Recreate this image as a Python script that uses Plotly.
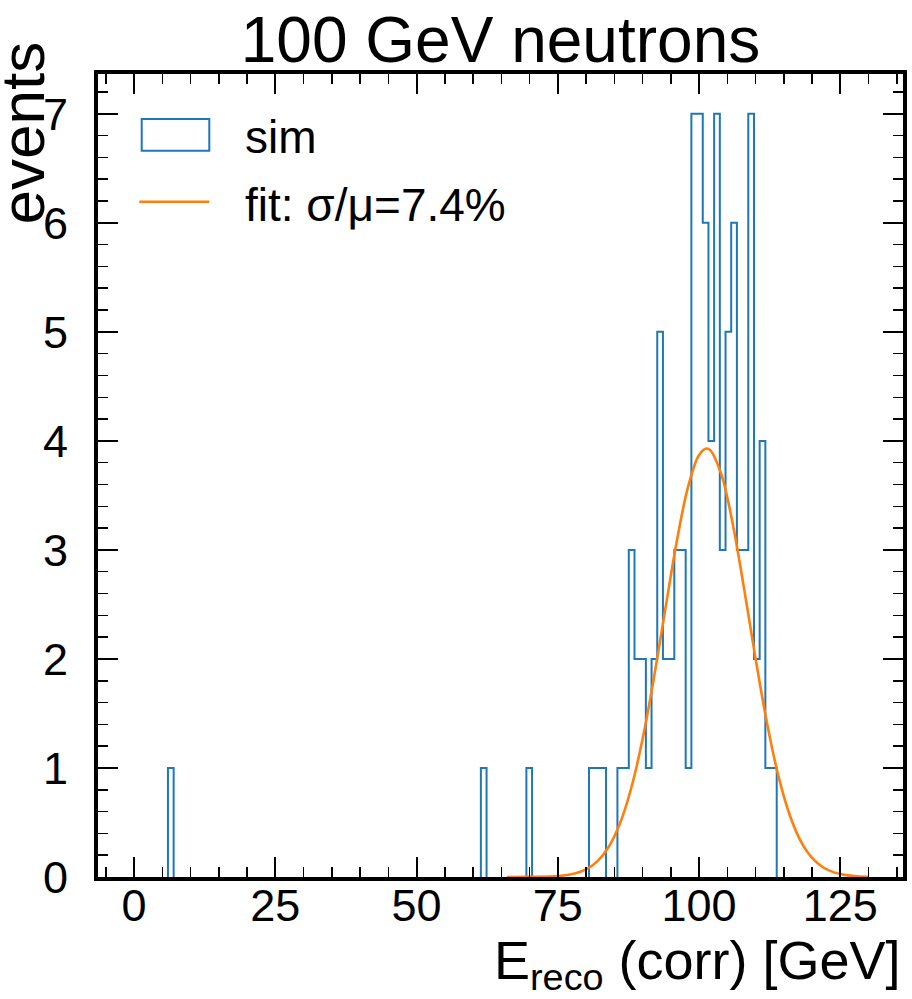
import numpy as np
import plotly.graph_objects as go

# ---- data ----
bin_lo = 6.0          # lower edge of first histogram bin [GeV]
bin_hi = 113.75       # upper edge of last histogram bin [GeV]
n_bins = 107

# non-empty bins (index -> events)
bin_index = [0, 55, 63,
             74, 75, 76, 79, 80, 81, 82, 83, 84, 85, 86, 87, 88, 89, 90,
             91, 92, 93, 94, 95, 96, 97, 98, 99, 100, 101, 102, 103, 104,
             105, 106]
bin_count = [1, 1, 1,
             1, 1, 1, 1, 1, 3, 2, 2, 1, 2, 5, 2, 2, 3, 3,
             1, 7, 7, 6, 4, 7, 3, 5, 6, 3, 3, 7, 2, 4,
             1, 1]

# Gaussian fit curve
fit_x = [66, 70, 75, 78, 80, 82, 84, 86, 88, 90, 92, 94, 96, 98, 100,
         101.3, 102, 104, 106, 108, 110, 112, 114, 116, 118, 120, 122,
         124, 126, 128, 130]
fit_y = [0.0, 0.001, 0.008, 0.032, 0.070, 0.143, 0.275, 0.490, 0.816,
         1.263, 1.822, 2.447, 3.061, 3.567, 3.871, 3.93, 3.913, 3.684,
         3.229, 2.637, 2.005, 1.420, 0.937, 0.576, 0.329, 0.176, 0.087,
         0.040, 0.017, 0.007, 0.0025]

title_text = "100 GeV neutrons"
xlabel = "E<sub>reco</sub> (corr) [GeV]"
ylabel = "events"
leg_sim = "sim"
leg_fit = "fit: σ/μ=7.4%"

x_ticks = [0, 25, 50, 75, 100, 125]
y_ticks = [0, 1, 2, 3, 4, 5, 6, 7]

# ---- build histogram outline (step), one piece per run of filled bins ----
edges = np.linspace(bin_lo, bin_hi, n_bins + 1)
counts = np.zeros(n_bins)
for i, c in zip(bin_index, bin_count):
    counts[i] = c

step_x, step_y = [], []
k = 0
while k < n_bins:
    if counts[k] > 0:
        a = k
        while k < n_bins and counts[k] > 0:
            k += 1
        b = k  # run covers bins a..b-1
        step_x += [edges[a]] + list(edges[a:b]) + [edges[b], None]
        step_y += [0] + list(counts[a:b]) + [0, None]
    else:
        k += 1

FONT = "Liberation Sans, Arial, Helvetica, sans-serif"
C0 = "#1f77b4"
C1 = "#ff7f0e"

fig = go.Figure()
fig.add_trace(go.Scatter(x=step_x, y=step_y, mode="lines",
                         line=dict(color=C0, width=2, shape="hv"),
                         connectgaps=False,
                         showlegend=False, hoverinfo="skip"))
fig.add_trace(go.Scatter(x=fit_x, y=fit_y, mode="lines",
                         line=dict(color=C1, width=2.6, shape="spline"),
                         showlegend=False, hoverinfo="skip"))

W, H = 912, 999
L, R, T, B = 98, 903, 74, 877


def px2paper(px, py):
    return (px - L) / (R - L), (B - py) / (B - T)


axis_common = dict(showline=True, linewidth=4, linecolor="black",
                   mirror="allticks", ticks="inside", ticklen=20,
                   tickwidth=2, tickcolor="black", showgrid=False,
                   zeroline=False, automargin=False,
                   tickfont=dict(family=FONT, size=45, color="black"))

fig.update_xaxes(range=[-6.38, 136.1], tickvals=x_ticks,
                 ticklabelstandoff=-14,
                 minor=dict(ticks="inside", ticklen=10, tickwidth=1.5,
                            dtick=5, tick0=0, tickcolor="black",
                            showgrid=False),
                 **axis_common)
fig.update_yaxes(range=[0, 7.365], tickvals=y_ticks,
                 ticklabelstandoff=17,
                 minor=dict(ticks="inside", ticklen=10, tickwidth=1.5,
                            dtick=0.2, tick0=0, tickcolor="black",
                            showgrid=False),
                 **axis_common)

shapes = []
x0, y0 = px2paper(141.7, 150.7)
x1, y1 = px2paper(209.3, 119)
shapes.append(dict(type="rect", xref="paper", yref="paper", x0=x0, y0=y0,
                   x1=x1, y1=y1, line=dict(color=C0, width=2),
                   fillcolor="rgba(0,0,0,0)"))
lx0, ly = px2paper(139.3, 201.7)
lx1, _ = px2paper(209.3, 201.7)
shapes.append(dict(type="line", xref="paper", yref="paper", x0=lx0, y0=ly,
                   x1=lx1, y1=ly, line=dict(color=C1, width=2.6)))

annotations = []
tx, ty1 = px2paper(243, 137)
_, ty2 = px2paper(243, 205)
annotations.append(dict(text=leg_sim, xref="paper", yref="paper", x=tx, y=ty1,
                        xanchor="left", yanchor="middle", showarrow=False,
                        font=dict(family=FONT, size=46, color="black")))
annotations.append(dict(text=leg_fit, xref="paper", yref="paper", x=tx, y=ty2,
                        xanchor="left", yanchor="middle", showarrow=False,
                        font=dict(family=FONT, size=46, color="black")))
# x label (right aligned)
_, xly = px2paper(0, 964)
annotations.append(dict(text=xlabel, xref="paper", yref="paper", x=1.0, y=xly,
                        xanchor="right", yanchor="middle", showarrow=False,
                        font=dict(family=FONT, size=54, color="black")))
# y label (top aligned)
ylx, yly = px2paper(22, 40)
annotations.append(dict(text=ylabel, xref="paper", yref="paper", x=ylx, y=yly,
                        xanchor="center", yanchor="top", textangle=-90,
                        showarrow=False,
                        font=dict(family=FONT, size=62, color="black")))

fig.update_layout(
    width=W, height=H,
    margin=dict(l=L, r=W - R, t=T, b=H - B, pad=0, autoexpand=False),
    paper_bgcolor="white", plot_bgcolor="white",
    title=dict(text=title_text, x=0.5, xref="paper", xanchor="center",
               y=1 - 40 / H, yref="container", yanchor="middle",
               font=dict(family=FONT, size=64, color="black")),
    shapes=shapes, annotations=annotations,
    showlegend=False,
)

# remove the browser's default 8px body margin so the figure sits at (0, 0)
fig.write_html("out.html",
               config={"displayModeBar": False, "staticPlot": True},
               post_script="document.body.style.margin='0';"
                           "document.body.style.overflow='hidden';")
